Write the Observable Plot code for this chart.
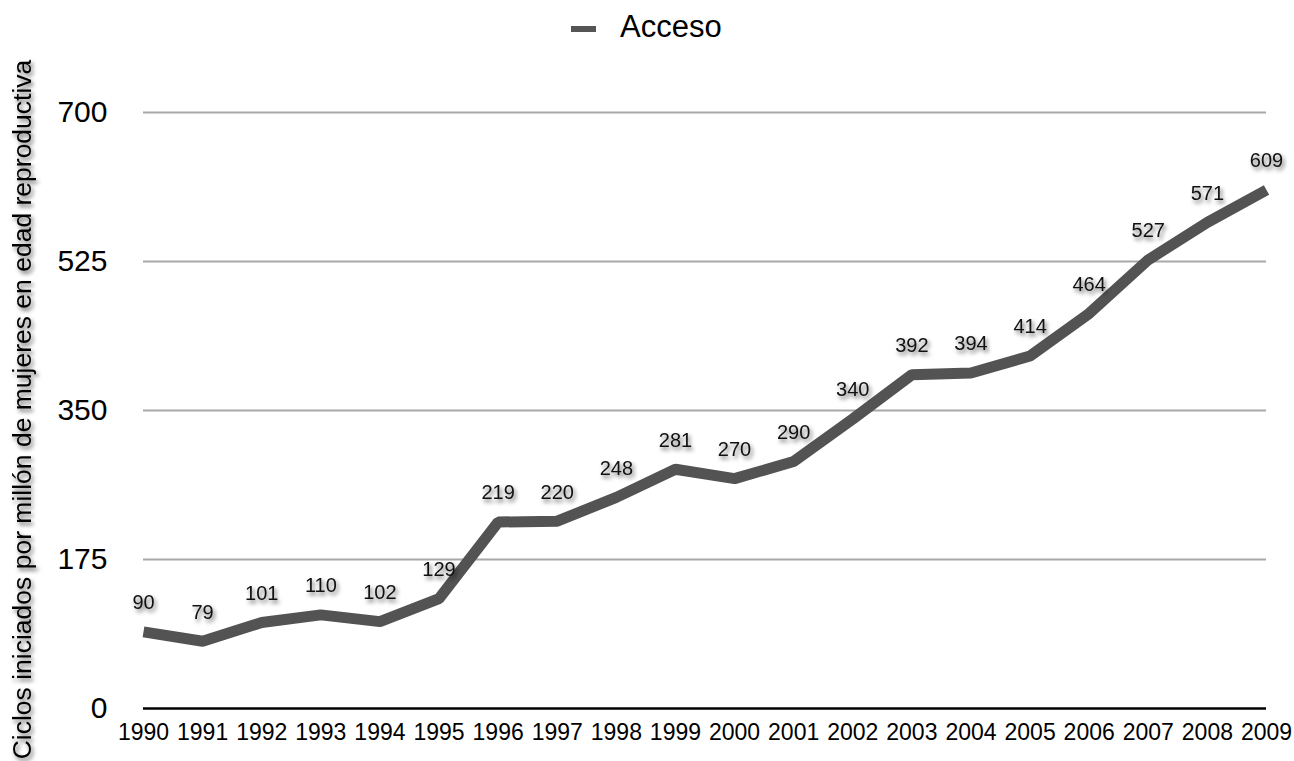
<!DOCTYPE html>
<html>
<head>
<meta charset="utf-8">
<script src="https://cdn.jsdelivr.net/npm/d3@7"></script>
<script src="https://cdn.jsdelivr.net/npm/@observablehq/plot@0.6"></script>
<style>
  html, body { margin: 0; padding: 0; background: #fff; }
  body { width: 1294px; height: 761px; overflow: hidden; font-family: "Liberation Sans", Helvetica, Arial, sans-serif; }
  #legend { position: relative; height: 58px; color: #000; }
  #legend .swatch { position: absolute; left: 571px; top: 26px; width: 25px; height: 6px; background: #555; }
  #legend .label { position: absolute; left: 620px; top: 9px; font-size: 31px; line-height: 36px; }
  #chart svg { overflow: visible; display: block; }
  #chart g[aria-label="text"] { filter: drop-shadow(2px 3px 2px rgba(0,0,0,0.6)); }
</style>
</head>
<body>
<div id="legend"><div class="swatch"></div><span class="label">Acceso</span></div>
<div id="chart"></div>
<script>
// Ciclos iniciados por millón de mujeres en edad reproductiva, 1990–2009
const years = [1990, 1991, 1992, 1993, 1994, 1995, 1996, 1997, 1998, 1999,
               2000, 2001, 2002, 2003, 2004, 2005, 2006, 2007, 2008, 2009];
const acceso = [90, 79, 101, 110, 102, 129, 219, 220, 248, 281,
                270, 290, 340, 392, 394, 414, 464, 527, 571, 609];
const yTicks = [0, 175, 350, 525, 700];
const yTitle = "Ciclos iniciados por millón de mujeres en edad reproductiva";

const data = years.map((year, i) => ({year, value: acceso[i]}));

const chart = Plot.plot({
  width: 1294,
  height: 703,
  marginTop: 54,
  marginBottom: 53,
  marginLeft: 143,
  marginRight: 28,
  style: {fontFamily: '"Liberation Sans", Helvetica, Arial, sans-serif', color: "#000", background: "transparent"},
  x: {domain: [1990, 2009], label: null},
  y: {domain: [0, 700], label: null},
  marks: [
    Plot.ruleY(yTicks.filter(d => d > 0), {stroke: "#a8a8a8", strokeWidth: 2}),
    Plot.ruleY([0], {stroke: "#000", strokeWidth: 2.5}),
    Plot.axisY({ticks: yTicks, tickSize: 0, tickPadding: 36, fontSize: 30, label: null, tickFormat: d => String(d)}),
    Plot.axisX({ticks: years, tickSize: 0, tickPadding: 15, fontSize: 23, label: null, tickFormat: d => String(d)}),
    Plot.line(data, {x: "year", y: "value", stroke: "#535353", strokeWidth: 11, strokeLinejoin: "miter", strokeLinecap: "butt"}),
    Plot.text(data, {x: "year", y: "value", text: d => String(d.value), dy: -29, fontSize: 20, fill: "#111"}),
    Plot.text([yTitle], {frameAnchor: "left", textAnchor: "middle", dx: -121, dy: -1, rotate: -90, fontSize: 26.5, fill: "#000", ariaLabel: "y title"})
  ]
});
document.getElementById("chart").appendChild(chart);
</script>
</body>
</html>
